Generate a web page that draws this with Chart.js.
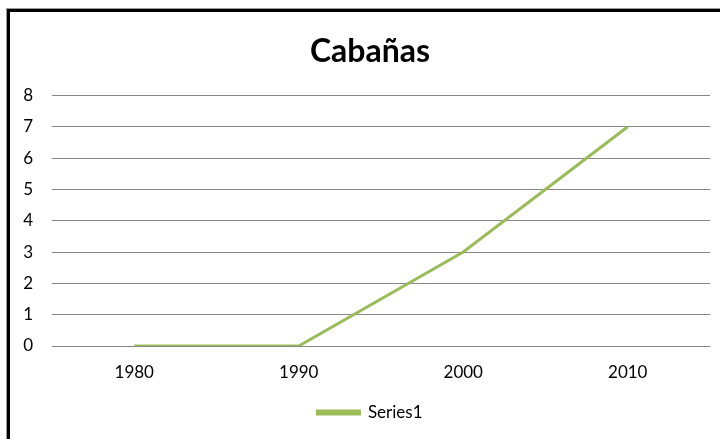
<!DOCTYPE html>
<html><head><meta charset="utf-8">
<script src="https://cdn.jsdelivr.net/npm/chart.js@4.4.0/dist/chart.umd.min.js"></script>
<style>
html,body{margin:0;padding:0;background:#fff;}
#wrap{position:relative;width:720px;height:439px;overflow:hidden;}
#frame{position:absolute;left:7px;top:9px;width:740px;height:460px;border-left:3px solid #000;border-top:3px solid #000;box-sizing:border-box;box-shadow:-1px -1px 0 #999;}
canvas{position:absolute;left:0;top:0;}
</style></head>
<body><div id="wrap"><div id="frame"></div><canvas id="c" width="740" height="439"></canvas></div>
<script>
const categories = ["1980", "1990", "2000", "2010"];
const series1 = [0, 0, 3, 7];
const yTicks = [0, 1, 2, 3, 4, 5, 6, 7, 8];
const seriesName = "Series1";
const titleText = "Cabañas";

new Chart(document.getElementById('c'), {
  type: 'line',
  data: {
    labels: categories,
    datasets: [{
      label: seriesName,
      data: series1,
      borderColor: '#9BBB59',
      backgroundColor: '#9BBB59',
      borderWidth: 3,
      pointRadius: 0,
      tension: 0
    }]
  },
  options: {
    responsive: false,
    animation: false,
    layout: { padding: { left: 10, right: 10, top: 12, bottom: 8 } },
    plugins: {
      title: {
        display: true, text: titleText, color: '#000',
        font: { family: 'Lato', size: 32, weight: 'bold' },
        padding: { top: 20, bottom: 25 }
      },
      legend: {
        position: 'bottom',
        labels: {
          color: '#000', boxWidth: 42, boxHeight: 3,
          font: { family: 'Lato', size: 17 }, padding: 10
        }
      },
      tooltip: { enabled: false }
    },
    scales: {
      x: {
        offset: true,
        grid: { display: false, drawTicks: false },
        border: { display: false },
        ticks: { color: '#000', font: { family: 'Lato', size: 17 }, padding: 16 },
        afterFit: s => { s.height = 48; }
      },
      y: {
        min: 0, max: 8,
        afterBuildTicks: s => { s.ticks = yTicks.map(v => ({ value: v })); },
        grid: { color: '#868686', lineWidth: 1, drawTicks: false },
        border: { display: false },
        ticks: { color: '#000', font: { family: 'Lato', size: 17 }, padding: 19 },
        afterFit: s => { s.width = 42; }
      },
      yRight: {
        position: 'right',
        min: 0, max: 8,
        grid: { display: false, drawTicks: false },
        border: { display: false },
        ticks: { display: false },
        afterFit: s => { s.width = 20; }
      }
    }
  }
});
</script></body></html>
